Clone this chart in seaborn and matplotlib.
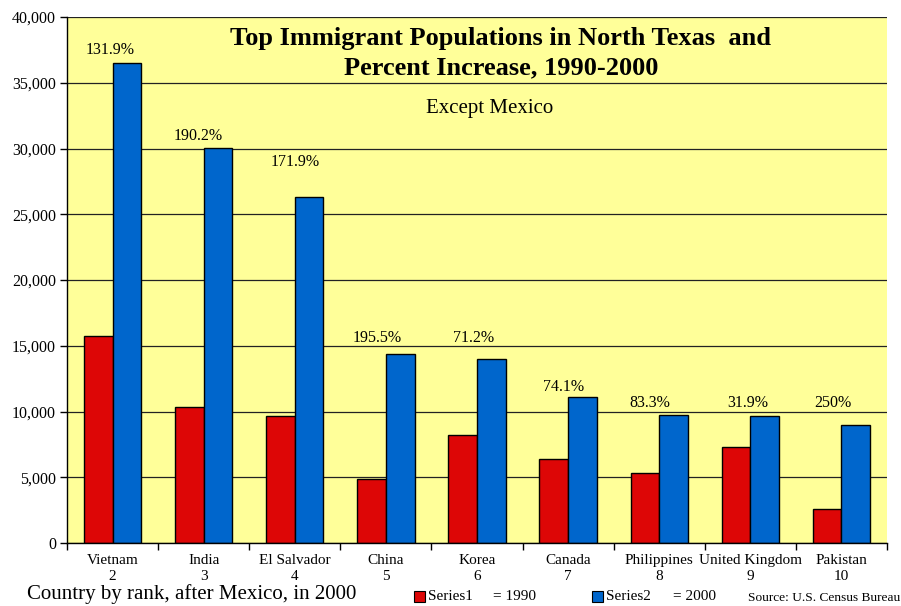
import matplotlib
matplotlib.use("Agg")
import matplotlib.pyplot as plt
import seaborn as sns
import pandas as pd
from matplotlib.patches import Rectangle

# Foreign-born population by country of birth, North Texas
countries = ["Vietnam", "India", "El Salvador", "China", "Korea",
             "Canada", "Philippines", "United Kingdom", "Pakistan"]
ranks = [2, 3, 4, 5, 6, 7, 8, 9, 10]
pop_1990 = [15750, 10350, 9680, 4870, 8180, 6380, 5300, 7300, 2570]
pop_2000 = [36525, 30040, 26320, 14390, 14000, 11110, 9715, 9630, 8990]
pct_labels = ["131.9%", "190.2%", "171.9%", "195.5%", "71.2%",
              "74.1%", "83.3%", "31.9%", "250%"]
y_ticks = [0, 5000, 10000, 15000, 20000, 25000, 30000, 35000, 40000]

# where each percent label sits (y in data units, x shift in category units)
label_y = [37500, 30950, 28970, 15590, 15590, 11860, 10650, 10650, 10650]
label_dx = [-0.03, -0.06, 0.0, -0.09, -0.04, -0.05, -0.10, -0.03, -0.09]

series_names = ["Series1", "Series2"]
df = pd.DataFrame({
    "country": countries * 2,
    "series": [series_names[0]] * len(countries) + [series_names[1]] * len(countries),
    "value": pop_1990 + pop_2000,
})

RED = "#DD0606"
BLUE = "#0066CC"
YELLOW = "#FFFF99"
SERIF = ["Liberation Serif", "DejaVu Serif"]

sns.set_theme(style="white")
plt.rcParams["font.family"] = SERIF
plt.rcParams["text.color"] = "black"
plt.rcParams["xtick.color"] = "black"
plt.rcParams["ytick.color"] = "black"
plt.rcParams["xtick.labelcolor"] = "black"
plt.rcParams["ytick.labelcolor"] = "black"

fig = plt.figure(figsize=(9.01, 6.06), dpi=100)
ax = fig.add_axes([67 / 901, 63 / 606, 820 / 901, 526 / 606])
ax.set_facecolor(YELLOW)

sns.barplot(data=df, x="country", y="value", hue="series", order=countries,
            hue_order=series_names, palette=[RED, BLUE], width=0.63,
            edgecolor="black", linewidth=1.0, saturation=1, ax=ax, legend=False)

ax.set_xlim(-0.5, len(countries) - 0.5)
ax.set_ylim(0, 40000)
ax.set_yticks(y_ticks)
ax.set_yticklabels([f"{v:,}" for v in y_ticks], fontsize=11.5, color="black")
ax.yaxis.grid(True, color="#222222", linewidth=0.9)
ax.set_axisbelow(True)

ax.set_xticks(range(len(countries)))
ax.set_xticklabels([f"{c}\n{r}" for c, r in zip(countries, ranks)],
                   fontsize=11, linespacing=1.25, color="black")
ax.set_xticks([i + 0.5 for i in range(-1, len(countries))], minor=True)
ax.tick_params(axis="x", which="major", length=0, pad=8)
ax.tick_params(axis="x", which="minor", length=5, width=1, color="black",
               direction="out", bottom=True)
ax.tick_params(axis="y", length=5, width=1, color="black", direction="out",
               left=True, pad=3)
ax.set_xlabel("")
ax.set_ylabel("")

for side in ["top", "right"]:
    ax.spines[side].set_visible(False)
for side in ["left", "bottom"]:
    ax.spines[side].set_color("black")
    ax.spines[side].set_linewidth(1.0)

for i, lab in enumerate(pct_labels):
    ax.text(i + label_dx[i], label_y[i], lab, ha="center", va="center",
            fontsize=11.5, color="black")

# titles inside the plot area
fig.text(501 / 901, 1 - 38 / 606, "Top Immigrant Populations in North Texas  and",
         ha="center", va="center", fontsize=19, fontweight="bold", color="black")
fig.text(501 / 901, 1 - 68 / 606, "Percent Increase, 1990-2000",
         ha="center", va="center", fontsize=19, fontweight="bold", color="black")
fig.text(490 / 901, 1 - 109 / 606, "Except Mexico",
         ha="center", va="center", fontsize=15, color="black")

# footer: axis caption, legend and source
fig.text(27 / 901, 1 - 594 / 606, "Country by rank, after Mexico, in 2000",
         ha="left", va="center", fontsize=15, color="black")

for x0, color, name, year, xname, xyear in [
        (414, RED, series_names[0], "= 1990", 428, 493),
        (592, BLUE, series_names[1], "= 2000", 606, 673)]:
    fig.patches.append(Rectangle((x0 / 901, 1 - 602 / 606), 11 / 901, 11 / 606,
                                 transform=fig.transFigure, facecolor=color,
                                 edgecolor="black", linewidth=0.8))
    fig.text(xname / 901, 1 - 597 / 606, name, ha="left", va="center",
             fontsize=11, color="black")
    fig.text(xyear / 901, 1 - 597 / 606, year, ha="left", va="center",
             fontsize=11, color="black")

fig.text(748 / 901, 1 - 598 / 606, "Source: U.S. Census Bureau",
         ha="left", va="center", fontsize=9.6, color="black")

fig.savefig("out.png", dpi=100, facecolor="white")
